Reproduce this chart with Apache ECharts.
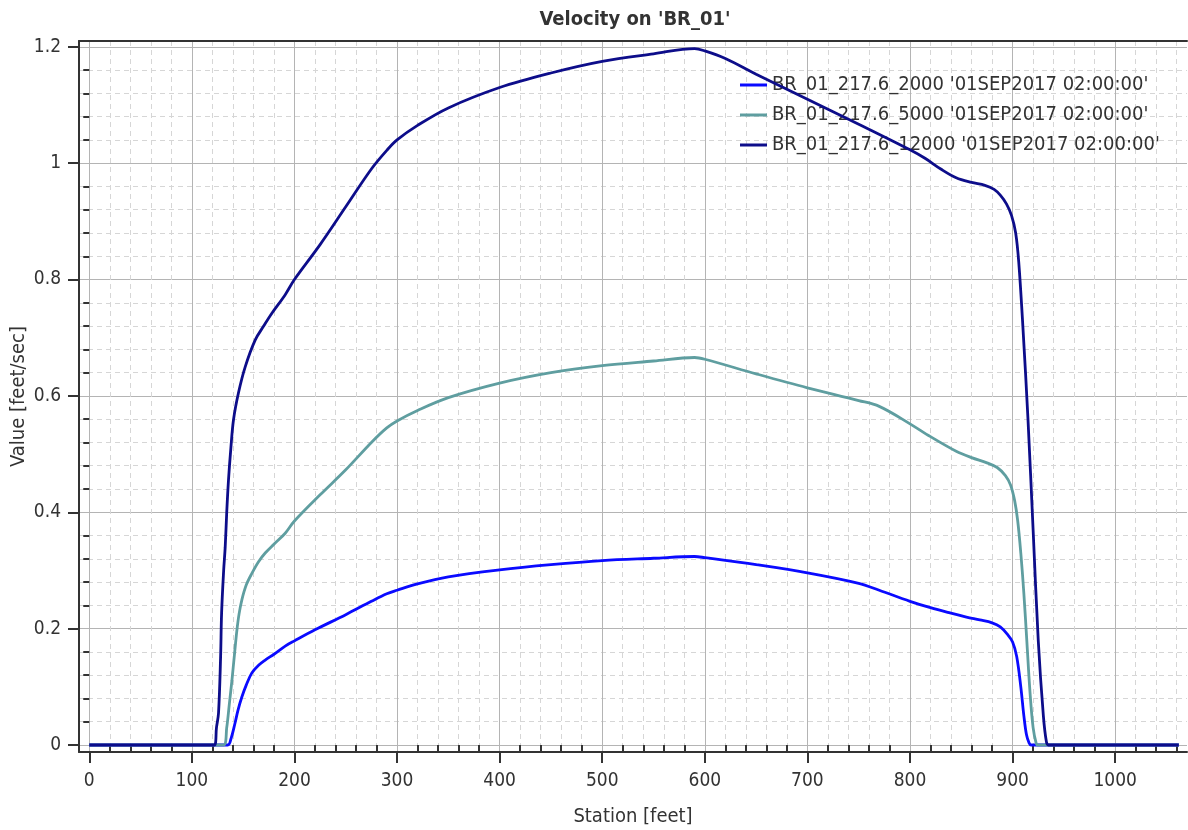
<!DOCTYPE html>
<html>
<head>
<meta charset="utf-8">
<script src="https://cdn.jsdelivr.net/npm/echarts@6/dist/echarts.min.js"></script>
<style>
html,body{margin:0;padding:0;background:#fff;}
#chart{width:1188px;height:830px;}
</style>
</head>
<body>
<div id="chart"></div>
<script>
// ---- data ----
var titleText = "Velocity on 'BR_01'";
var xAxisName = "Station [feet]";
var yAxisName = "Value [feet/sec]";
var seriesNames = [
  "BR_01_217.6_2000 '01SEP2017 02:00:00'",
  "BR_01_217.6_5000 '01SEP2017 02:00:00'",
  "BR_01_217.6_12000 '01SEP2017 02:00:00'"
];
var xMajorTicks = [0,100,200,300,400,500,600,700,800,900,1000];
var yMajorTicks = [0,0.2,0.4,0.6,0.8,1,1.2];

var s2000 = [
  [0,0],[135,0],[138,0.01],[142,0.037],[145,0.06],[148.8,0.083],[153,0.103],[158.5,0.124],
  [165,0.137],[171.5,0.146],[180,0.156],[191,0.17],[200,0.179],[220,0.198],[250,0.224],
  [275,0.247],[290,0.26],[300,0.266],[320,0.277],[350,0.289],[400,0.301],[450,0.31],
  [500,0.317],[550,0.321],[590,0.324],[600,0.322],[650,0.31],[700,0.296],[750,0.278],
  [770,0.266],[800,0.247],[820,0.236],[839,0.227],[855,0.22],[868,0.215],[880,0.21],
  [888,0.203],[895,0.19],[900,0.177],[904,0.152],[908,0.1],[911,0.05],[913.5,0.018],
  [916,0.004],[918,0],[1062,0]
];
var s5000 = [
  [0,0],[131,0],[134,0.03],[136.5,0.07],[139,0.11],[141.5,0.155],[143.9,0.197],[146,0.225],
  [148.8,0.25],[153,0.275],[158.5,0.295],[165,0.315],[171.5,0.33],[180,0.345],[191,0.364],
  [200,0.385],[225,0.43],[250,0.473],[275,0.52],[290,0.545],[300,0.557],[320,0.575],
  [350,0.597],[400,0.622],[450,0.64],[500,0.652],[550,0.66],[590,0.666],[600,0.663],
  [650,0.638],[700,0.614],[750,0.592],[770,0.582],[800,0.552],[820,0.53],[845,0.505],
  [860,0.494],[875,0.485],[885,0.477],[893,0.463],[898,0.447],[902,0.42],[905,0.385],
  [908,0.33],[911,0.26],[914,0.175],[917,0.09],[920,0.03],[923,0.003],[924.5,0],[1062,0]
];
var s12000 = [
  [0,0],[122,0],[124,0.03],[126,0.055],[128,0.15],[129,0.227],[131,0.3],[132.5,0.34],
  [134,0.4],[135.7,0.455],[138,0.51],[140.6,0.559],[145.4,0.605],[152,0.65],[161.7,0.696],
  [170,0.72],[178,0.742],[191,0.774],[200,0.8],[225,0.86],[250,0.925],[275,0.99],
  [290,1.022],[300,1.04],[320,1.065],[350,1.095],[400,1.13],[450,1.155],[500,1.175],
  [550,1.188],[590,1.197],[600,1.193],[620,1.18],[650,1.153],[700,1.11],[750,1.067],
  [800,1.023],[815,1.008],[830,0.99],[845,0.975],[860,0.967],[873,0.962],[882,0.955],
  [888,0.945],[894,0.93],[899,0.91],[903,0.88],[906,0.83],[910,0.72],[915,0.56],
  [920,0.37],[925,0.18],[930,0.05],[933,0.005],[935,0],[1062,0]
];
var colors = ['#0a0aff', '#5f9ea0', '#0d0d8a'];

// minor ticks derived from the major tick lists (5 subdivisions)
function minorOf(majors, step, lo, hi) {
  var out = [];
  var first = majors[0] - step * 5, last = majors[majors.length - 1] + step * 5;
  for (var m = first; m <= last + 1e-9; m += step * 5) {
    for (var k = 1; k < 5; k++) {
      var v = Math.round((m + k * step) * 1e6) / 1e6;
      if (v > lo && v < hi) out.push(v);
    }
  }
  return out;
}
var xMin = -10, xMax = 1070, yMin = -0.012, yMax = 1.21;
var xMinorTicks = minorOf(xMajorTicks, 20, xMin, xMax);
var yMinorTicks = minorOf(yMajorTicks, 0.04, yMin, yMax);

var FONT = "'DejaVu Sans Condensed', 'Noto Sans', sans-serif";
var TXT = '#333333';
function plain(v) { return String(v); }

var chart = echarts.init(document.getElementById('chart'), null, {renderer: 'canvas'});
chart.setOption({
  animation: false,
  backgroundColor: '#ffffff',
  title: {
    text: titleText, left: 630, top: 5, textAlign: 'center',
    textStyle: {fontFamily: FONT, fontSize: 20, fontWeight: 'bold', color: TXT}
  },
  legend: {
    orient: 'vertical', left: 735, top: 70, itemGap: 10,
    icon: 'rect', itemWidth: 27, itemHeight: 3,
    data: seriesNames,
    textStyle: {fontFamily: FONT, fontSize: 20, color: TXT}
  },
  grid: {left: 79, right: 1, top: 41, bottom: 78, containLabel: false, outerBoundsMode: 'none'},
  xAxis: [
    {
      type: 'value', min: xMin, max: xMax, position: 'bottom',
      name: xAxisName, nameLocation: 'middle', nameGap: 55, nameMoveOverlap: false,
      nameTextStyle: {fontFamily: FONT, fontSize: 20, color: TXT},
      axisLine: {show: true, onZero: false, lineStyle: {color: '#333', width: 2}},
      axisTick: {show: true, customValues: xMajorTicks, length: 11, lineStyle: {color: '#333', width: 2}},
      axisLabel: {customValues: xMajorTicks, formatter: plain, margin: 20, fontFamily: FONT, fontSize: 19, color: TXT},
      splitLine: {show: true, lineStyle: {color: '#b4b4b4', width: 1}}
    },
    {
      type: 'value', min: xMin, max: xMax, position: 'bottom',
      axisLine: {show: false},
      axisTick: {show: true, customValues: xMinorTicks, length: 6, lineStyle: {color: '#333', width: 2}},
      axisLabel: {show: false},
      splitLine: {show: true, lineStyle: {color: '#d6d6d6', width: 1, type: [5, 4]}}
    },
    {
      type: 'value', min: xMin, max: xMax, position: 'top',
      axisLine: {show: true, onZero: false, lineStyle: {color: '#333', width: 2}},
      axisTick: {show: false}, axisLabel: {show: false}, splitLine: {show: false}
    }
  ],
  yAxis: [
    {
      type: 'value', min: yMin, max: yMax, position: 'left',
      name: yAxisName, nameLocation: 'middle', nameGap: 50, nameMoveOverlap: false,
      nameTextStyle: {fontFamily: FONT, fontSize: 20, color: TXT},
      axisLine: {show: true, onZero: false, lineStyle: {color: '#333', width: 2}},
      axisTick: {show: true, customValues: yMajorTicks, length: 11, lineStyle: {color: '#333', width: 2}},
      axisLabel: {customValues: yMajorTicks, formatter: plain, margin: 18, fontFamily: FONT, fontSize: 19, color: TXT},
      splitLine: {show: true, lineStyle: {color: '#b4b4b4', width: 1}}
    },
    {
      type: 'value', min: yMin, max: yMax, position: 'left',
      axisLine: {show: false},
      axisTick: {show: true, customValues: yMinorTicks, length: 6, lineStyle: {color: '#333', width: 2}},
      axisLabel: {show: false},
      splitLine: {show: true, lineStyle: {color: '#d6d6d6', width: 1, type: [5, 4]}}
    }
  ],
  series: [
    {name: seriesNames[0], type: 'line', data: s2000, showSymbol: false, smooth: 0.35, color: colors[0], lineStyle: {width: 2.8, color: colors[0]}, z: 3},
    {name: seriesNames[1], type: 'line', data: s5000, showSymbol: false, smooth: 0.35, color: colors[1], lineStyle: {width: 2.8, color: colors[1]}, z: 3},
    {name: seriesNames[2], type: 'line', data: s12000, showSymbol: false, smooth: 0.35, color: colors[2], lineStyle: {width: 2.8, color: colors[2]}, z: 4}
  ]
});
</script>
</body>
</html>
